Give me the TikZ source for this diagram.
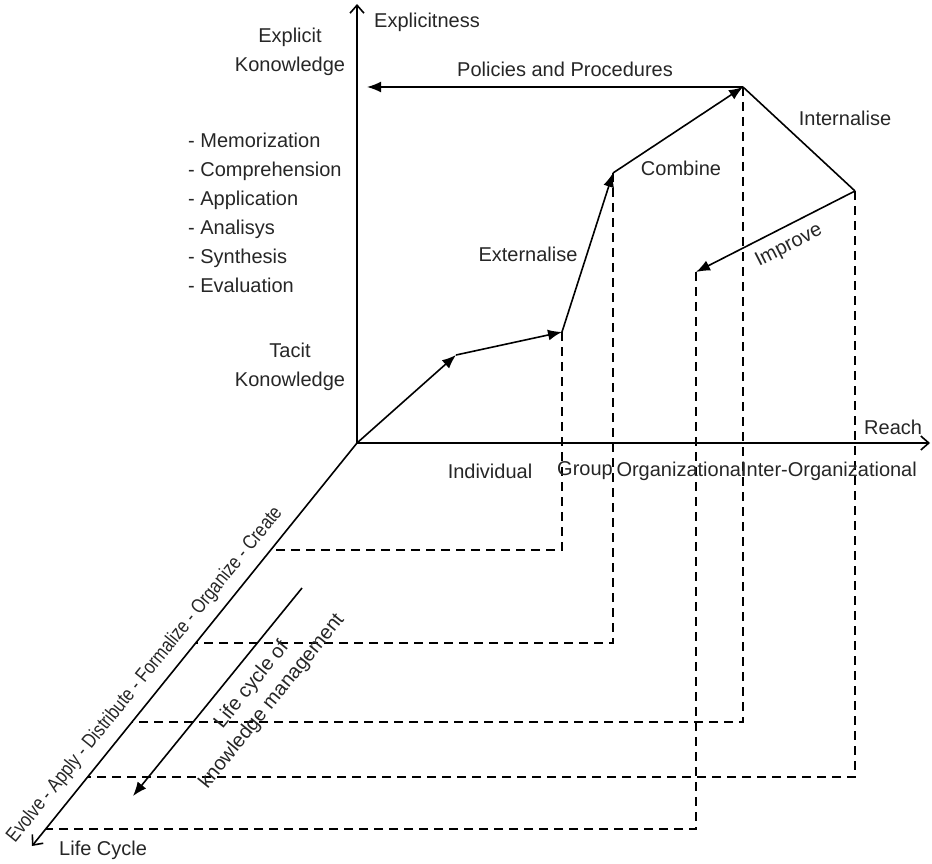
\documentclass[tikz,border=0pt]{standalone}
\usepackage{fontspec}
\setmainfont{Liberation Sans}
\newfontfamily\narrowsans{Liberation Sans}[FakeStretch=0.83]
\usetikzlibrary{arrows.meta}
\begin{document}
\begin{tikzpicture}[x=1pt,y=-1pt,
  every node/.style={font=\fontsize{20}{29}\selectfont, inner sep=0pt, text=black!85},
  axis/.style={line width=1.6pt,-{Straight Barb[length=8pt,width=14pt,line width=1.6pt]}},
  flow/.style={line width=1.6pt,-{Latex[length=14pt,width=11pt]}},
  plain/.style={line width=1.6pt},
  guide/.style={line width=1.6pt, dash pattern=on 9pt off 6pt}]
\useasboundingbox (0,0) rectangle (932,864);

% axes
\coordinate (O) at (357,443);
\coordinate (ytop) at (357,4);
\coordinate (xend) at (930,443);
\coordinate (lend) at (32,846);
\draw[axis] (O) -- (ytop);
\draw[axis] (O) -- (xend);
\draw[axis] (O) -- (lend);

% knowledge path
\coordinate (p1) at (456,355);
\coordinate (p2) at (562,332);
\coordinate (p3) at (613,173);
\coordinate (p4) at (743,87);
\coordinate (p5) at (855,191);
\coordinate (p6) at (696,272);
\coordinate (pp) at (367,87);
\draw[flow] (O) -- (p1);
\draw[flow] (p1) -- (p2);
\draw[flow] (p2) -- (p3);
\draw[flow] (p3) -- (p4);
\draw[flow] (p4) -- (pp);
\draw[plain] (p4) -- (p5);
\draw[flow] (p5) -- (p6);

% projections onto the life-cycle axis
\coordinate (l2) at (270.8,550);
\coordinate (l3) at (195.8,643);
\coordinate (l4) at (132.1,722);
\coordinate (l5) at (87.8,777);
\coordinate (l6) at (45.9,829);
\draw[guide] (p2) |- (l2);
\draw[guide] (p3) |- (l3);
\draw[guide] (p4) |- (l4);
\draw[guide] (p5) |- (l5);
\draw[guide] (p6) |- (l6);

% life cycle of knowledge management
\coordinate (k1) at (302,588);
\coordinate (k2) at (133,796);
\draw[flow] (k1) -- (k2);

% labels
\node[anchor=west] (texp) at (374,22) {Explicitness};
\node[align=center] (tek) at (290,52) {Explicit\\Konowledge};
\node[align=center] (ttk) at (290,367) {Tacit\\Konowledge};
\node[anchor=west, align=left] (tlist) at (188,213)
  {- Memorization\\- Comprehension\\- Application\\- Analisys\\- Synthesis\\- Evaluation};
\node (tpol) at (565,69) {Policies and Procedures};
\node (text) at (528,254) {Externalise};
\node (tcomb) at (681,168) {Combine};
\node (tint) at (845,118) {Internalise};
\node[rotate=27] (timp) at (789,246) {Improve};
\node[anchor=west] (treach) at (864,427) {Reach};
\node (tind) at (490,471) {Individual};
\node (tgrp) at (585,471) {Group};
\node (torg) at (681,471) {Organizational};
\node (tint2) at (829,471) {Inter-Organizational};
\node[anchor=west] (tlife) at (59,850) {Life Cycle};
\node[rotate=51, font=\narrowsans\fontsize{20}{24}\selectfont] (tstages) at (145,675)
  {Evolve - Apply - Distribute - Formalize - Organize - Create};
\node[rotate=51, align=center, font=\fontsize{20}{26}\selectfont] (tkm) at (262,693)
  {Life cycle of\\knowledge management};
\end{tikzpicture}
\end{document}
